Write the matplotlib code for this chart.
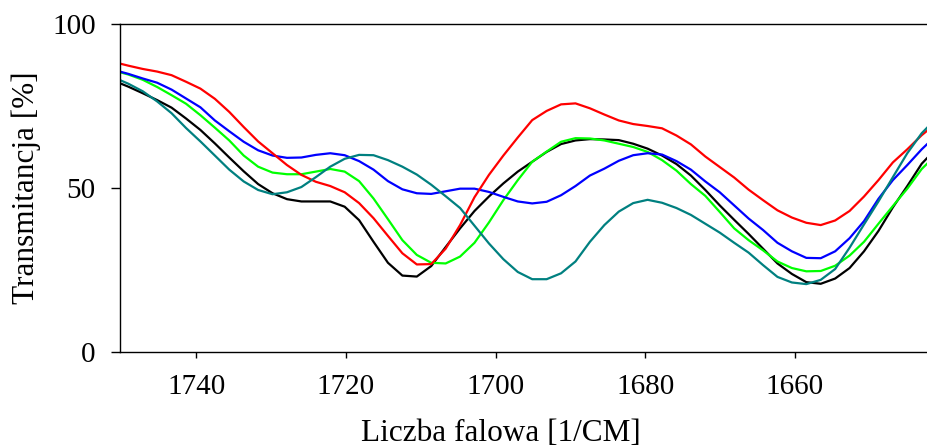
import numpy as np
import matplotlib.pyplot as plt

# siatka liczb falowych (krok spektrometru ~1.93 cm-1)
wn = 1751.02 - 1.9285 * np.arange(58)

czarna = [82.7, 80.9, 78.9, 76.8, 74.5, 71.2, 67.7, 63.6, 59.3, 55.1,
          51.2, 48.4, 46.6, 45.9, 45.9, 45.9, 44.3, 40.2, 33.6, 27.2,
          23.3, 23.0, 26.2, 32.0, 37.7, 43.0, 47.4, 51.4, 55.0, 58.0,
          61.0, 63.4, 64.5, 64.9, 64.8, 64.6, 63.5, 62.0, 59.9, 57.3,
          53.8, 49.4, 44.7, 40.3, 36.0, 31.5, 27.0, 23.8, 21.3, 20.8,
          22.4, 25.6, 30.7, 36.9, 44.1, 50.6, 57.4, 62.0]
zielona = [85.8, 84.6, 83.0, 80.8, 78.3, 75.7, 72.2, 68.4, 64.5, 59.9,
           56.5, 54.7, 54.2, 54.2, 55.0, 55.8, 55.0, 52.1, 46.8, 40.5,
           34.1, 29.6, 27.2, 27.0, 29.1, 33.3, 39.5, 46.3, 52.4, 58.0,
           61.1, 64.1, 65.2, 65.1, 64.5, 63.5, 62.5, 61.0, 58.5, 55.3,
           51.2, 47.6, 42.7, 37.7, 34.1, 31.0, 27.6, 25.6, 24.6, 24.7,
           26.3, 29.4, 33.6, 39.1, 44.5, 49.8, 55.8, 60.1]
niebieska = [86.0, 84.8, 83.4, 82.1, 80.0, 77.3, 74.6, 70.6, 67.3, 64.1,
             61.5, 59.9, 59.2, 59.3, 60.1, 60.6, 60.0, 58.2, 55.6, 52.1,
             49.6, 48.4, 48.2, 49.0, 49.8, 49.8, 48.8, 47.3, 45.9, 45.3,
             45.8, 47.8, 50.6, 53.8, 55.9, 58.3, 60.0, 60.6, 60.2, 58.2,
             55.6, 52.0, 48.7, 44.7, 40.7, 37.2, 33.3, 30.7, 28.7, 28.6,
             30.7, 34.7, 39.9, 46.7, 52.4, 57.0, 61.8, 66.0]
czerwona = [88.4, 87.3, 86.3, 85.5, 84.4, 82.4, 80.3, 77.2, 73.2, 68.6,
            64.2, 60.6, 57.0, 54.0, 51.9, 50.6, 48.7, 45.4, 40.8, 35.4,
            30.1, 26.7, 26.8, 31.5, 38.7, 47.2, 54.0, 59.9, 65.4, 70.7,
            73.5, 75.5, 75.8, 74.3, 72.4, 70.6, 69.5, 68.9, 68.2, 66.0,
            63.3, 59.6, 56.4, 53.2, 49.5, 46.3, 43.2, 41.0, 39.4, 38.7,
            40.1, 43.0, 47.4, 52.4, 57.8, 61.8, 66.1, 69.7]
morska = [83.7, 81.8, 79.5, 76.4, 72.8, 68.3, 64.2, 59.9, 55.6, 52.0,
          49.4, 48.1, 48.7, 50.3, 53.3, 56.5, 58.9, 60.1, 60.0, 58.5,
          56.5, 54.1, 51.0, 47.5, 43.9, 38.5, 33.1, 28.3, 24.4, 22.2,
          22.2, 24.0, 27.6, 33.6, 38.7, 42.8, 45.4, 46.4, 45.5, 43.9,
          41.8, 39.1, 36.4, 33.3, 30.3, 26.5, 22.9, 21.2, 20.7, 22.0,
          25.3, 31.8, 38.9, 45.9, 53.3, 60.6, 66.7, 71.2]

plt.rcParams['font.family'] = ['Liberation Serif', 'DejaVu Serif']

fig = plt.figure(figsize=(9.28, 4.47), dpi=100)
# os wychodzi poza prawa krawedz obrazka (jak w oryginale)
ax = fig.add_axes([0.1293, 0.2125, 0.8883, 0.7338])

ax.plot(wn, czarna, color='#000000', linewidth=1.6)
ax.plot(wn, zielona, color='#00ff00', linewidth=1.6)
ax.plot(wn, niebieska, color='#0000ff', linewidth=1.6)
ax.plot(wn, czerwona, color='#ff0000', linewidth=1.6)
ax.plot(wn, morska, color='#008080', linewidth=1.6)

ax.set_xlim(1750.2, 1640)
ax.set_ylim(0, 100)
ax.set_xticks([1740, 1720, 1700, 1680, 1660])
ax.set_yticks([0, 50, 100])

for s in ['left', 'bottom', 'top']:
    ax.spines[s].set_linewidth(1.0)
ax.spines['right'].set_visible(False)

ax.tick_params(axis='x', direction='out', length=4, width=1, labelsize=21, pad=12)
ax.tick_params(axis='y', direction='out', length=6.5, width=1, labelsize=21, pad=11)

ax.set_xlabel('Liczba falowa [1/CM]', fontsize=22.5)
ax.xaxis.set_label_coords(0.462, -0.205)
ax.set_ylabel('Transmitancja [%]', fontsize=22.5, labelpad=8)

fig.savefig('out.png', dpi=100)
